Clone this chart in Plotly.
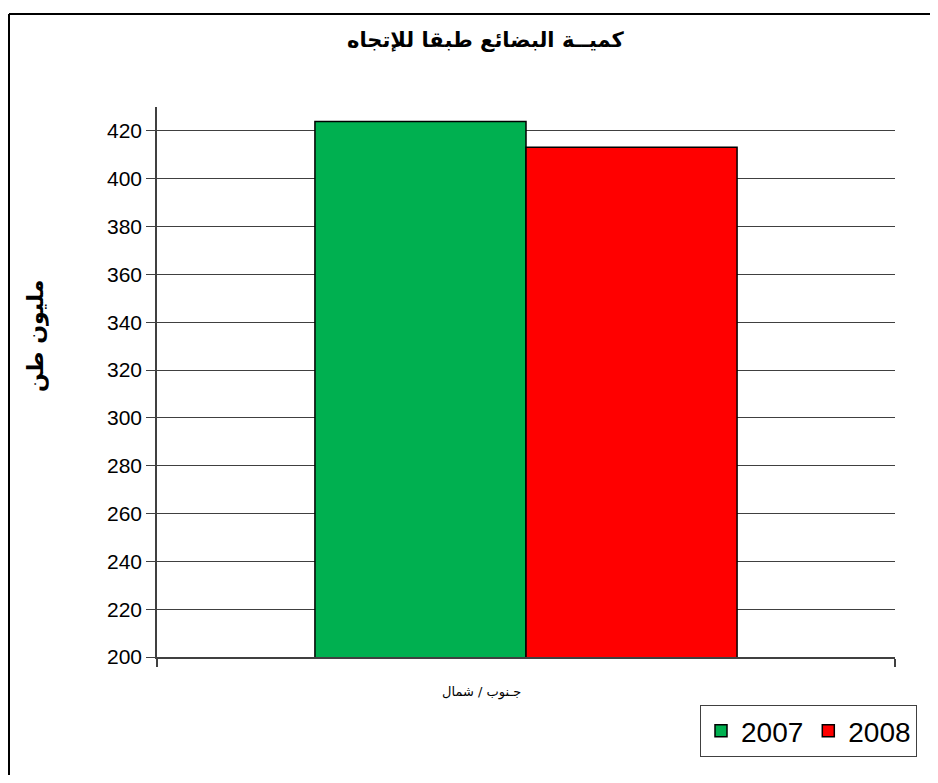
import plotly.graph_objects as go

categories = ["جـنوب / شمال"]
series_names = ["2007", "2008"]
values_2007 = [423.9]
values_2008 = [413.2]
y_ticks = list(range(200, 421, 20))
colors = ["#00B050", "#FF0000"]

fig = go.Figure()
for name, vals, col in zip(series_names, [values_2007, values_2008], colors):
    fig.add_trace(go.Bar(
        x=categories, y=vals, name=name,
        marker=dict(color=col, line=dict(color="#000000", width=1.5)),
    ))

OFF = 8  # page body margin
W, H = 922, 767
L, R, T, B = 157 - OFF, 895 - OFF, 107 - OFF, 657 - OFF
pw, ph = R - L, B - T

def px(x):
    return (x - OFF - L) / pw

def py(y):
    return (B - (y - OFF)) / ph

AR = "DejaVu Sans, Liberation Sans, Arial, sans-serif"
LAT = "Liberation Sans, Arial, sans-serif"

frame = dict(color="#000000", width=2)

fig.update_layout(
    width=W, height=H,
    margin=dict(l=L, r=W - R, t=T, b=H - B, pad=0),
    paper_bgcolor="white", plot_bgcolor="white",
    barmode="group", bargap=0.428, bargroupgap=0,
    font=dict(family=LAT, color="#000000"),
    showlegend=True,
    legend=dict(
        orientation="h", x=px(917), y=py(705), xanchor="right", yanchor="top",
        bordercolor="#404040", borderwidth=1, bgcolor="white",
        font=dict(size=28, family=LAT),
        itemwidth=30, traceorder="normal",
    ),
    xaxis=dict(
        showticklabels=False, showgrid=False,
        showline=True, linecolor="#404040", linewidth=1.5,
        ticks="outside", ticklen=8, tickcolor="#404040", tickwidth=1.5,
        tickson="boundaries", range=[-0.5, 0.5],
    ),
    yaxis=dict(
        range=[200, 430], tickvals=y_ticks, ticktext=[str(v) for v in y_ticks],
        showgrid=True, gridcolor="#404040", gridwidth=1,
        showline=True, linecolor="#404040", linewidth=1.5,
        ticks="outside", ticklen=9, tickcolor="#404040", tickwidth=1,
        tickfont=dict(size=21, family=LAT),
        zeroline=False,
    ),
    shapes=[
        dict(type="line", xref="paper", yref="paper",
             x0=px(9), y0=py(14), x1=px(W + 60), y1=py(14), line=frame, layer="below"),
        dict(type="line", xref="paper", yref="paper",
             x0=px(9), y0=py(14), x1=px(9), y1=py(H + 60), line=frame, layer="below"),
    ],
    annotations=[
        dict(text="<b>كميــة البضائع طبقا للإتجاه</b>", xref="paper", yref="paper",
             x=px(486), y=py(40), xanchor="center", yanchor="middle", showarrow=False,
             font=dict(size=21, family=AR)),
        dict(text="<b>مليون طن</b>", xref="paper", yref="paper", textangle=-90,
             x=px(36), y=py(336), xanchor="center", yanchor="middle", showarrow=False,
             font=dict(size=22, family=AR)),
        dict(text=categories[0], xref="paper", yref="paper",
             x=px(481), y=py(692), xanchor="center", yanchor="middle", showarrow=False,
             font=dict(size=13, family=AR)),
    ],
)

fig.write_html("out.html")
